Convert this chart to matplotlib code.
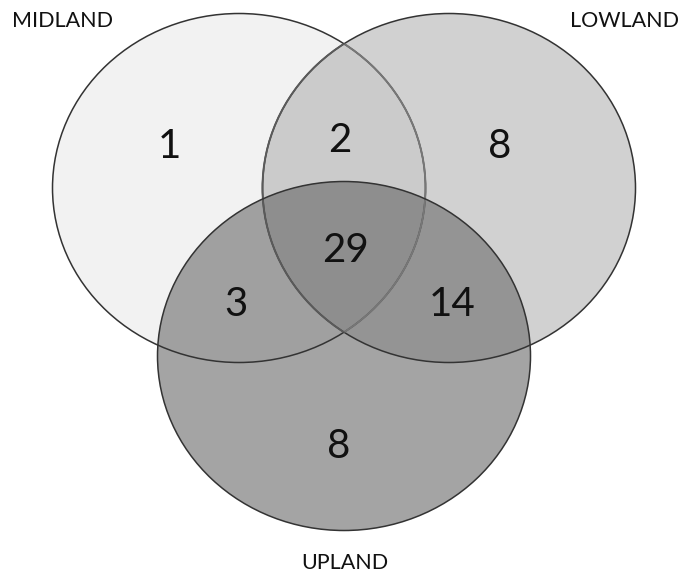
import numpy as np
import matplotlib
matplotlib.use("Agg")
import matplotlib.pyplot as plt
from matplotlib.patches import Ellipse, Polygon

plt.rcParams['font.family'] = ['Lato', 'DejaVu Sans']

# data
sets = ["MIDLAND", "LOWLAND", "UPLAND"]
region_names = ["M", "L", "ML", "U", "MU", "LU", "MLU"]
region_counts = [1, 8, 2, 8, 3, 14, 29]

# layout (pixel coords, y downwards)
centers = {"M": (239, 188), "L": (449, 188), "U": (344, 356)}
W, H = 373, 349
label_pos = {"MIDLAND": (62, 21), "LOWLAND": (624, 21), "UPLAND": (345, 563)}
count_pos = {"M": (169, 146), "L": (500, 146), "ML": (340, 140), "U": (339, 446),
             "MU": (236, 305), "LU": (452, 305), "MLU": (345, 250)}
region_colors = {"M": "#f2f2f2", "L": "#d1d1d1", "ML": "#cbcbcb", "U": "#a4a4a4",
                 "MU": "#a0a0a0", "LU": "#949494", "MLU": "#8e8e8e"}

fig = plt.figure(figsize=(6.8, 5.75), dpi=100)
ax = fig.add_axes([0, 0, 1, 1])
ax.set_xlim(0, 680)
ax.set_ylim(575, 0)
ax.set_aspect('equal')
ax.axis('off')

def boundary(key, n=720):
    cx, cy = centers[key]
    t = np.linspace(0, 2 * np.pi, n, endpoint=False)
    return np.column_stack([cx + W / 2 * np.cos(t), cy + H / 2 * np.sin(t)])

def inside(key, pts):
    cx, cy = centers[key]
    return ((pts[:, 0] - cx) / (W / 2)) ** 2 + ((pts[:, 1] - cy) / (H / 2)) ** 2 <= 1.0

def intersection(keys):
    pts = []
    for k in keys:
        b = boundary(k)
        mask = np.ones(len(b), bool)
        for o in keys:
            if o != k:
                mask &= inside(o, b)
        pts.append(b[mask])
    pts = np.vstack(pts)
    c = pts.mean(axis=0)
    ang = np.arctan2(pts[:, 1] - c[1], pts[:, 0] - c[0])
    return pts[np.argsort(ang)]

def ell(key, **kw):
    return Ellipse(centers[key], W, H, **kw)

# fills
ax.add_patch(ell("M", facecolor=region_colors["M"], edgecolor='none', zorder=1))
ax.add_patch(ell("L", facecolor=region_colors["L"], edgecolor='none', zorder=2))
ax.add_patch(Polygon(intersection(["M", "L"]), closed=True, facecolor=region_colors["ML"], edgecolor='none', zorder=3))
ax.add_patch(ell("U", facecolor=region_colors["U"], edgecolor='none', zorder=4))
ax.add_patch(Polygon(intersection(["M", "U"]), closed=True, facecolor=region_colors["MU"], edgecolor='none', zorder=5))
ax.add_patch(Polygon(intersection(["L", "U"]), closed=True, facecolor=region_colors["LU"], edgecolor='none', zorder=5))
ax.add_patch(Polygon(intersection(["M", "L", "U"]), closed=True, facecolor=region_colors["MLU"], edgecolor='none', zorder=6))

# outlines
lw = 1.1
ax.add_patch(ell("M", facecolor='none', edgecolor='#333333', lw=lw, zorder=7))
ax.add_patch(ell("L", facecolor='none', edgecolor='#333333', lw=lw, zorder=7))
clipL = ell("L", facecolor='none', edgecolor='none')
ax.add_patch(clipL)
e = ell("M", facecolor='none', edgecolor='#777777', lw=lw + 0.3, zorder=8)
ax.add_patch(e)
e.set_clip_path(clipL)
clipM = ell("M", facecolor='none', edgecolor='none')
ax.add_patch(clipM)
e = ell("L", facecolor='none', edgecolor='#5a5a5a', lw=lw + 0.3, zorder=8)
ax.add_patch(e)
e.set_clip_path(clipM)
ax.add_patch(ell("U", facecolor='none', edgecolor='#333333', lw=lw, zorder=9))

for name in sets:
    x, y = label_pos[name]
    ax.text(x, y, name, ha='center', va='center', fontsize=15.5, color='#111111', zorder=10)

for r, c in zip(region_names, region_counts):
    x, y = count_pos[r]
    ax.text(x, y, str(c), ha='center', va='center', fontsize=29, color='#111111', zorder=10)

fig.savefig("out.png", dpi=100)
